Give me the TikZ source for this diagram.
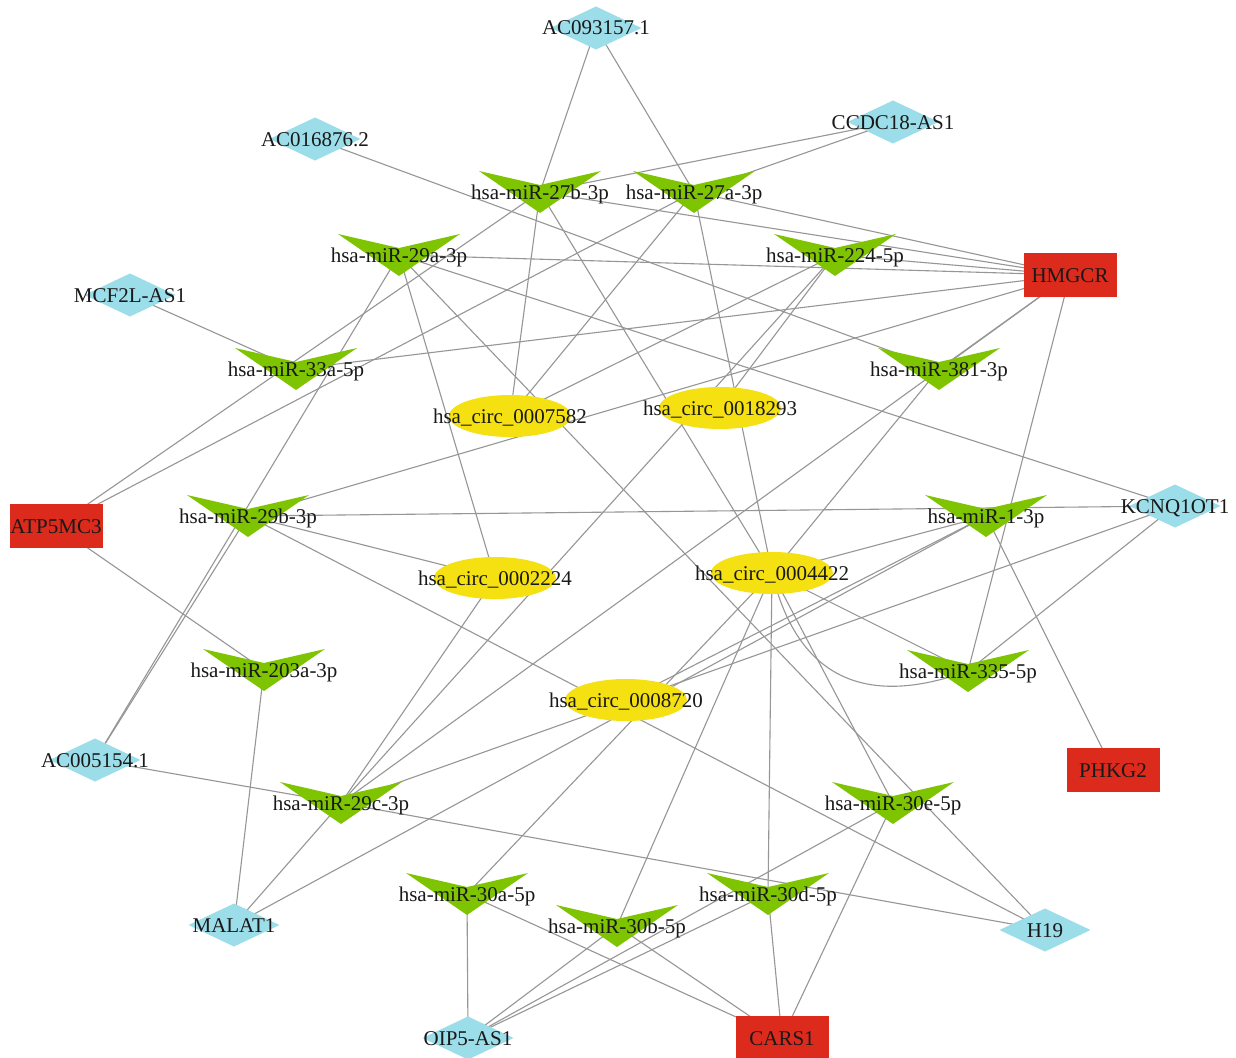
\documentclass[tikz,border=0pt]{standalone}
\usepackage{fontspec}
\setmainfont{Liberation Serif}
\usetikzlibrary{shapes.geometric}
\definecolor{lncblue}{RGB}{155,221,232}
\definecolor{genered}{RGB}{220,42,28}
\definecolor{circyellow}{RGB}{245,224,18}
\definecolor{mirgreen}{RGB}{126,196,0}
\definecolor{edgegray}{RGB}{150,150,150}
\definecolor{labeltext}{RGB}{25,25,25}
\pgfdeclarelayer{bg}
\pgfdeclarelayer{edges}
\pgfdeclarelayer{shapes}
\pgfsetlayers{bg,edges,shapes,main}
\tikzset{
  lbl/.style={inner sep=0pt, text height=14pt, text depth=0pt,
    font=\fontsize{21}{25}\selectfont, text=labeltext},
  genebox/.style={rectangle, fill=genered, minimum width=93pt, minimum height=44pt, inner sep=0pt},
  circblob/.style={ellipse, fill=circyellow, minimum width=122pt, minimum height=42pt, inner sep=0pt},
  lncdiamond/.pic={\fill[lncblue] (-45.5,0) -- (0,-21.5) -- (45.5,0) -- (0,21.5) -- cycle;},
  mirvee/.pic={\fill[mirgreen] (-61,-21) -- (0,-7) -- (61,-21) -- (0,21) -- cycle;},
  link/.style={draw=edgegray, line width=1.1pt},
}
\begin{document}
\begin{tikzpicture}[x=1pt,y=-1pt]
\useasboundingbox (0,0) rectangle (1236,1057);
\begin{pgfonlayer}{bg}
\fill[white] (0,0) rectangle (1236,1057);
\end{pgfonlayer}

% ---------- shapes ----------
\begin{pgfonlayer}{shapes}
% lncRNA diamonds
\pic at (596,28) {lncdiamond};
\pic at (315,139) {lncdiamond};
\pic at (893,122) {lncdiamond};
\pic at (130,295) {lncdiamond};
\pic at (1175,506) {lncdiamond};
\pic at (95,760) {lncdiamond};
\pic at (234,925) {lncdiamond};
\pic at (468,1038) {lncdiamond};
\pic at (1045,930) {lncdiamond};
% mRNA boxes
\node[genebox] (HMG-box) at (1070,275) {};
\node[genebox] (ATP-box) at (56,526) {};
\node[genebox] (PHK-box) at (1113,770) {};
\node[genebox] (CARS-box) at (782,1038) {};
% circRNA ellipses
\node[circblob] (c7582-shape) at (510,416) {};
\node[circblob] (c18293-shape) at (720,408) {};
\node[circblob] (c2224-shape) at (495,578) {};
\node[circblob] (c4422-shape) at (772,573) {};
\node[circblob] (c8720-shape) at (626,700) {};
% miRNA chevrons
\pic at (540,192) {mirvee};
\pic at (694,192) {mirvee};
\pic at (399,255) {mirvee};
\pic at (835,255) {mirvee};
\pic at (296,369) {mirvee};
\pic at (939,369) {mirvee};
\pic at (248,516) {mirvee};
\pic at (986,516) {mirvee};
\pic at (264,670) {mirvee};
\pic at (968,671) {mirvee};
\pic at (341,803) {mirvee};
\pic at (893,803) {mirvee};
\pic at (467,894) {mirvee};
\pic at (617,926) {mirvee};
\pic at (768,894) {mirvee};
\end{pgfonlayer}

% ---------- labels (named nodes) ----------
\node[lbl] (A093) at (596,28) {AC093157.1};
\node[lbl] (A016) at (315,139) {AC016876.2};
\node[lbl] (CCDC) at (893,122) {CCDC18-AS1};
\node[lbl] (MCF) at (130,295) {MCF2L-AS1};
\node[lbl] (KCN) at (1175,506) {KCNQ1OT1};
\node[lbl] (A005) at (95,760) {AC005154.1};
\node[lbl] (MAL) at (234,925) {MALAT1};
\node[lbl] (OIP) at (468,1038) {OIP5-AS1};
\node[lbl] (H19) at (1045,930) {H19};
\node[lbl] (HMG) at (1070,275) {HMGCR};
\node[lbl] (ATP) at (56,526) {ATP5MC3};
\node[lbl] (PHK) at (1113,770) {PHKG2};
\node[lbl] (CARS) at (782,1038) {CARS1};
\node[lbl] (c7582) at (510,416) {hsa\_circ\_0007582};
\node[lbl] (c18293) at (720,408) {hsa\_circ\_0018293};
\node[lbl] (c2224) at (495,578) {hsa\_circ\_0002224};
\node[lbl] (c4422) at (772,573) {hsa\_circ\_0004422};
\node[lbl] (c8720) at (626,700) {hsa\_circ\_0008720};
\node[lbl] (m27b) at (540,192) {hsa-miR-27b-3p};
\node[lbl] (m27a) at (694,192) {hsa-miR-27a-3p};
\node[lbl] (m29a) at (399,255) {hsa-miR-29a-3p};
\node[lbl] (m224) at (835,255) {hsa-miR-224-5p};
\node[lbl] (m33a) at (296,369) {hsa-miR-33a-5p};
\node[lbl] (m381) at (939,369) {hsa-miR-381-3p};
\node[lbl] (m29b) at (248,516) {hsa-miR-29b-3p};
\node[lbl] (m1) at (986,516) {hsa-miR-1-3p};
\node[lbl] (m203a) at (264,670) {hsa-miR-203a-3p};
\node[lbl] (m335) at (968,671) {hsa-miR-335-5p};
\node[lbl] (m29c) at (341,803) {hsa-miR-29c-3p};
\node[lbl] (m30e) at (893,803) {hsa-miR-30e-5p};
\node[lbl] (m30a) at (467,894) {hsa-miR-30a-5p};
\node[lbl] (m30b) at (617,926) {hsa-miR-30b-5p};
\node[lbl] (m30d) at (768,894) {hsa-miR-30d-5p};

% ---------- edges ----------
\begin{pgfonlayer}{edges}
\foreach \a/\b in {
  A093/m27b, A093/m27a, CCDC/m27b, CCDC/m27a, A016/m381, MCF/m33a,
  m27b/HMG, m27a/HMG, m29a/HMG, m224/HMG, m33a/HMG, m29b/HMG,
  m381/HMG, m29c/HMG, m335/HMG,
  ATP/m27b, ATP/m27a, ATP/m203a, m203a/MAL,
  m27b/c7582, m27b/c4422, m27a/c7582, m27a/c4422,
  m224/c7582, m224/c18293, m224/m29c,
  m29a/KCN, m29a/c2224, m29a/H19, m29a/A005,
  m29b/A005, m29b/c2224, m29b/KCN, m29b/H19,
  c2224/m29c, c4422/m381, c4422/m1, c4422/m335,
  c4422/m30b, c4422/m30d, c4422/m30e, m30a/c4422,
  KCN/m29c, KCN/m335, m1/PHK, m1/c8720, m1/MAL,
  m29c/MAL, A005/m29c, m29c/H19,
  m30e/CARS, m30e/OIP, m30a/CARS, m30a/OIP,
  m30b/CARS, m30b/OIP, m30d/CARS, m30d/OIP}
  \draw[link] (\a.center) -- (\b.center);
\draw[link] (c4422.center) .. controls (797,676) and (863,709) .. (m335.center);
\end{pgfonlayer}
\end{tikzpicture}
\end{document}
